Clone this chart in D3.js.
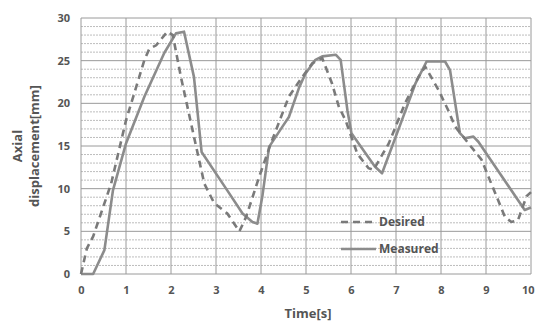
<!DOCTYPE html>
<html>
<head>
<meta charset="utf-8">
<script src="https://cdn.jsdelivr.net/npm/d3@7"></script>
<style>
  body { margin: 0; background: #fff; }
  text { font-family: "Open Sans", "Liberation Sans", sans-serif; font-weight: bold; fill: #555; }
</style>
</head>
<body>
<div id="chart"></div>
<script>
// Data (time in s, displacement in mm)
const desiredT = [0, 0.13, 0.27, 0.67, 1.0, 1.41, 1.52, 1.67, 1.92, 2.04, 2.22, 2.51, 2.74, 2.96, 3.25, 3.52, 3.67, 3.96, 4.22, 4.62, 4.92, 5.14, 5.36, 5.58, 5.73, 5.88, 6.14, 6.39, 6.5, 6.84, 7.2, 7.5, 7.65, 7.94, 8.16, 8.31, 8.61, 8.9, 9.42, 9.56, 9.71, 9.9, 10];
const desiredV = [0, 3.0, 4.4, 10.6, 18.0, 25.1, 26.4, 26.8, 28.4, 28.0, 23.1, 16.1, 10.6, 8.3, 7.1, 5.0, 6.7, 11.4, 15.3, 20.8, 23.1, 24.7, 25.3, 22.3, 19.6, 18.0, 14.1, 12.4, 12.2, 15.3, 20.0, 23.1, 24.3, 21.6, 19.2, 17.3, 15.3, 13.4, 6.7, 6.1, 6.3, 9.1, 9.6];
const measuredT = [0, 0.27, 0.52, 0.71, 1.0, 1.41, 1.85, 2.11, 2.29, 2.51, 2.68, 3.25, 3.59, 3.81, 3.92, 4.03, 4.18, 4.48, 4.62, 4.85, 4.99, 5.21, 5.36, 5.66, 5.77, 5.92, 6.01, 6.53, 6.69, 7.13, 7.43, 7.68, 8.09, 8.2, 8.42, 8.53, 8.72, 8.83, 9.86, 10];
const measuredV = [0, 0, 2.8, 9.8, 15.3, 20.8, 25.9, 28.2, 28.4, 23.1, 14.3, 9.8, 7.1, 6.1, 5.9, 9.1, 14.9, 17.3, 18.4, 21.9, 23.5, 25.1, 25.5, 25.7, 25.1, 19.2, 16.5, 12.6, 11.8, 18.0, 22.3, 24.9, 24.9, 23.9, 16.5, 15.9, 16.1, 15.5, 7.5, 7.8];
const xTicks = [0, 1, 2, 3, 4, 5, 6, 7, 8, 9, 10];
const yTicks = [0, 5, 10, 15, 20, 25, 30];
const seriesNames = ["Desired", "Measured"];

const width = 536, height = 325;
const margin = { left: 81, right: 5, top: 18, bottom: 51 };

const svg = d3.select("#chart").append("svg")
  .attr("width", width).attr("height", height);

const x = d3.scaleLinear().domain([0, 10]).range([margin.left, width - margin.right]);
const y = d3.scaleLinear().domain([0, 30]).range([height - margin.bottom, margin.top]);

// minor horizontal grid (every 1 mm)
svg.append("g").selectAll("line")
  .data(d3.range(1, 30).filter(v => v % 5 !== 0))
  .join("line")
  .attr("x1", x(0)).attr("x2", x(10))
  .attr("y1", d => y(d)).attr("y2", d => y(d))
  .attr("stroke", "#bdbdbd").attr("stroke-width", 1)
  .attr("stroke-dasharray", "2,1");

// major grid
svg.append("g").selectAll("line")
  .data(yTicks)
  .join("line")
  .attr("x1", x(0)).attr("x2", x(10))
  .attr("y1", d => y(d)).attr("y2", d => y(d))
  .attr("stroke", "#9a9a9a").attr("stroke-width", 1);

svg.append("g").selectAll("line")
  .data(xTicks)
  .join("line")
  .attr("x1", d => x(d)).attr("x2", d => x(d))
  .attr("y1", y(0)).attr("y2", y(30))
  .attr("stroke", "#9a9a9a").attr("stroke-width", 1);

// axes labels
const xAxis = d3.axisBottom(x).tickValues(xTicks).tickSize(0).tickPadding(12);
const gx = svg.append("g").attr("transform", `translate(0,${y(0)})`).call(xAxis);
gx.select(".domain").remove();
gx.selectAll("text").style("font-size", "11px").attr("fill", "#555");
// keep the last label inside the window
gx.selectAll(".tick").filter(d => d === 10).select("text").attr("text-anchor", "end").attr("dx", "3");

const yAxis = d3.axisLeft(y).tickValues(yTicks).tickSize(0).tickPadding(11);
const gy = svg.append("g").attr("transform", `translate(${x(0)},0)`).call(yAxis);
gy.select(".domain").remove();
gy.selectAll("text").style("font-size", "11px").attr("fill", "#555");

// lines
const line = d3.line().x(d => x(d[0])).y(d => y(d[1]));
const desired = desiredT.map((t, i) => [t, desiredV[i]]);
const measured = measuredT.map((t, i) => [t, measuredV[i]]);

svg.append("path").datum(measured)
  .attr("d", line).attr("fill", "none")
  .attr("stroke", "#8c8c8c").attr("stroke-width", 2.6)
  .attr("stroke-linejoin", "round");

svg.append("path").datum(desired)
  .attr("d", line).attr("fill", "none")
  .attr("stroke", "#7a7a7a").attr("stroke-width", 2.6)
  .attr("stroke-dasharray", "7,5");

// legend
const legend = svg.append("g").attr("transform", "translate(341,222)");
seriesNames.forEach((name, i) => {
  const g = legend.append("g").attr("transform", `translate(0,${i * 27})`);
  g.append("line").attr("x1", 0).attr("x2", 35).attr("y1", 0).attr("y2", 0)
    .attr("stroke", i === 0 ? "#7a7a7a" : "#8c8c8c").attr("stroke-width", 2.6)
    .attr("stroke-dasharray", i === 0 ? "7,5" : null);
  g.append("text").attr("x", 38).attr("y", 0).attr("dy", "0.35em")
    .style("font-size", "12px").text(name);
});

// axis titles
svg.append("text").attr("x", (x(0) + x(10)) / 2 + 2).attr("y", 318)
  .attr("text-anchor", "middle").style("font-size", "13px").text("Time[s]");

svg.append("text").attr("transform", "translate(22,146) rotate(-90)")
  .attr("text-anchor", "middle").style("font-size", "13px").text("Axial");
svg.append("text").attr("transform", "translate(39,146) rotate(-90)")
  .attr("text-anchor", "middle").style("font-size", "13px").text("displacement[mm]");
</script>
</body>
</html>
